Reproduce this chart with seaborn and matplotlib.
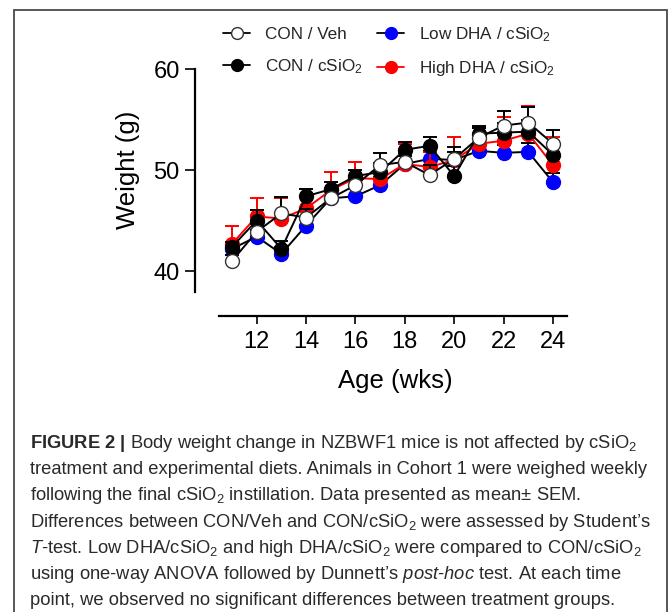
import numpy as np
import pandas as pd
import matplotlib
matplotlib.use("Agg")
import matplotlib.pyplot as plt
import seaborn as sns
from matplotlib.lines import Line2D
from matplotlib.patches import Rectangle

# ---------------- data ----------------
weeks = [11, 12, 13, 14, 15, 16, 17, 18, 19, 20, 21, 22, 23, 24]

con_veh = [41.0, 43.9, 45.7, 45.3, 47.2, 48.5, 50.5, 50.8, 49.5, 51.1, 53.2, 54.4, 54.7, 52.6]
con_veh_sem = [0.6, 0.8, 1.6, 0.8, 0.8, 0.9, 1.2, 0.9, 1.0, 1.2, 1.0, 1.4, 1.5, 1.4]

con_sio2 = [42.4, 45.0, 42.2, 47.4, 48.1, 49.4, 49.8, 52.0, 52.4, 49.4, 53.6, 53.7, 53.8, 51.5]
con_sio2_sem = [0.5, 1.0, 0.8, 0.7, 0.7, 0.6, 0.9, 0.8, 0.9, 1.0, 0.8, 1.0, 1.2, 1.2]

low_dha = [42.2, 43.4, 41.7, 44.5, 47.2, 47.4, 48.5, 50.6, 51.1, 51.0, 51.9, 51.7, 51.8, 48.8]
low_dha_sem = [0.6, 0.7, 0.7, 0.7, 0.7, 0.7, 0.8, 0.8, 0.8, 0.8, 0.8, 0.8, 0.9, 0.9]

high_dha = [42.7, 45.4, 45.2, 46.2, 48.0, 49.2, 49.1, 50.6, 50.3, 51.0, 52.6, 52.9, 53.6, 50.5]
high_dha_sem = [1.8, 1.8, 2.0, 1.9, 1.8, 1.6, 1.4, 2.0, 1.5, 2.3, 1.6, 2.3, 2.7, 2.8]

labels = ["CON / Veh", "CON / cSiO$_2$", "Low DHA / cSiO$_2$", "High DHA / cSiO$_2$"]
x_ticks = [12, 14, 16, 18, 20, 22, 24]
y_ticks = [40, 50, 60]

caption_lines = [
    r"$\mathbf{FIGURE\ 2\ |}$ Body weight change in NZBWF1 mice is not affected by cSiO$_2$",
    "treatment and experimental diets. Animals in Cohort 1 were weighed weekly",
    "following the final cSiO$_2$ instillation. Data presented as mean\u00b1 SEM.",
    "Differences between CON/Veh and CON/cSiO$_2$ were assessed by Student\u2019s",
    r"$\mathit{T}$-test. Low DHA/cSiO$_2$ and high DHA/cSiO$_2$ were compared to CON/cSiO$_2$",
    r"using one-way ANOVA followed by Dunnett’s $\mathit{post}$-$\mathit{hoc}$ test. At each time",
    "point, we observed no significant differences between treatment groups.",
]

# ---------------- style ----------------
sns.set_theme(style="ticks")
plt.rcParams["font.family"] = ["Liberation Sans", "DejaVu Sans"]
plt.rcParams["mathtext.fontset"] = "custom"
plt.rcParams["mathtext.rm"] = "Liberation Sans"
plt.rcParams["mathtext.it"] = "Liberation Sans:italic"
plt.rcParams["mathtext.bf"] = "Liberation Sans:bold"

W, H = 670, 612
fig = plt.figure(figsize=(W / 100, H / 100), dpi=100)
fig.patch.set_facecolor("white")

ax_left, ax_right, ax_top, ax_bottom = 195, 567, 69, 316
ax = fig.add_axes([ax_left / W, 1 - ax_bottom / H, (ax_right - ax_left) / W, (ax_bottom - ax_top) / H])
ax.set_facecolor("white")

series = [
    # values, sem, line color, face, edge, errcolor, zorder
    (low_dha, low_dha_sem, "black", "#0000ff", "#0000ff", "black", 3),
    (high_dha, high_dha_sem, "#ff0000", "#ff0000", "#ff0000", "#ff0000", 4),
    (con_sio2, con_sio2_sem, "black", "black", "black", "black", 5),
    (con_veh, con_veh_sem, "black", "white", "#333333", "black", 6),
]

for vals, sem, lc, fc, ec, errc, z in series:
    df = pd.DataFrame({"week": weeks, "weight": vals})
    ax.errorbar(weeks, vals, yerr=[np.zeros(len(sem)), sem], fmt="none",
                ecolor=errc, elinewidth=1.4, capsize=5, capthick=1.4,
                zorder=z - 0.5, clip_on=False)
    sns.lineplot(data=df, x="week", y="weight", ax=ax, color=lc, marker="o",
                 markersize=10, markerfacecolor=fc, markeredgecolor=ec,
                 markeredgewidth=1.0, linewidth=1.4, zorder=z, legend=False,
                 errorbar=None, clip_on=False)

ax.set_xlim(9.5, 24.57)
ax.set_ylim(35.55, 60)
ax.set_xticks(x_ticks)
ax.set_yticks(y_ticks)
ax.spines["top"].set_visible(False)
ax.spines["right"].set_visible(False)
ax.spines["left"].set_bounds(37.9, 60)
ax.spines["bottom"].set_bounds(10.47, 24.57)
for s in ["left", "bottom"]:
    ax.spines[s].set_linewidth(1.6)
    ax.spines[s].set_color("black")
ax.tick_params(axis="y", length=7.5, width=1.2, pad=3.5, labelsize=17, colors="black")
ax.tick_params(axis="x", length=5.5, width=1.2, pad=5, labelsize=17, colors="black")
ax.grid(False)

ax.set_ylabel("Weight (g)", fontsize=18.5, color="black")
ax.set_xlabel("Age (wks)", fontsize=18.5, color="black")
ax.yaxis.set_label_coords(-0.148, 0.59)
ax.xaxis.set_label_coords(0.538, -0.215)

# ---------------- legend ----------------
handles = []
for vals, sem, lc, fc, ec, errc, z in [series[3], series[2], series[0], series[1]]:
    handles.append(Line2D([], [], color=lc, marker="o", markersize=8.5,
                          markerfacecolor=fc, markeredgecolor=ec,
                          markeredgewidth=1.0, linewidth=1.3))
fig.legend(handles, labels, ncol=2, loc="upper left",
           bbox_to_anchor=(223 / W, 1 - 25 / H), frameon=False, fontsize=12.3,
           handlelength=1.6, handletextpad=0.85, columnspacing=0.85,
           labelspacing=0.9, borderpad=0, borderaxespad=0)

# ---------------- caption ----------------
fig.canvas.draw()
renderer = fig.canvas.get_renderer()
probe = fig.text(0, 0, caption_lines[1], fontsize=13)
w_probe = probe.get_window_extent(renderer).width
probe.remove()
cap_fs = 13 * 617 / w_probe
fs_px = cap_fs * 100 / 72
centers = [441, 467, 493, 520, 546, 572, 598]
for line, yc in zip(caption_lines, centers):
    yb = yc + 0.36 * fs_px
    fig.text(30 / W, 1 - yb / H, line, fontsize=cap_fs, color="#2a2a2a",
             ha="left", va="baseline")

# ---------------- border ----------------
fig.patches.append(Rectangle((14 / W, -0.05), (667 - 14) / W, 1.05 - 9.5 / H,
                             transform=fig.transFigure, fill=False,
                             edgecolor="#4a4a4a", linewidth=1.3))

fig.savefig("out.png", dpi=100, facecolor="white")
